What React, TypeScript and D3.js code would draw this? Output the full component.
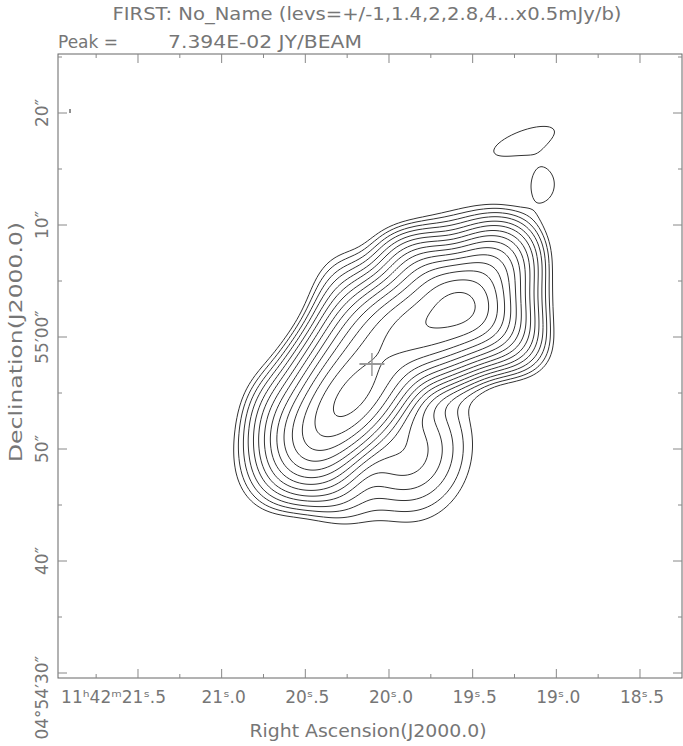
import React from 'react';
import * as d3 from 'd3';

// RA in seconds of time after 11h42m, Dec in arcsec after +04d54m
const raMajor = [21.5, 21.0, 20.5, 20.0, 19.5, 19.0, 18.5];
const raMinor = [21.75, 21.25, 20.75, 20.25, 19.75, 19.25, 18.75];
const raLabels = ['11ʰ42ᵐ21ˢ.5', '21ˢ.0', '20ˢ.5', '20ˢ.0', '19ˢ.5', '19ˢ.0', '18ˢ.5'];
const decMajor = [30, 40, 50, 60, 70, 80];
const decMinor = [35, 45, 55, 65, 75, 85];
const decLabels = ['04°54′30″', '40″', '50″', '55′00″', '10″', '20″'];

// gaussian components: position, peak (mJy/beam), widths (arcsec), PA (deg)
const compRA = [19.568, 20.228, 19.73, 20.477, 20.144, 19.459, 19.81, 20.248, 19.934, 19.199, 19.083];
const compDec = [63.14, 54.44, 61.21, 49.93, 59.17, 65.14, 50.11, 62.77, 49.91, 77.59, 73.75];
const compAmp = [25.16, 43.92, 52.85, 3.84, 14.37, 21.78, 0.83, 1.36, 1.8, 0.65, 0.65];
const compMaj = [3.27, 4.07, 3.42, 2.09, 5.9, 2.65, 5.51, 3.02, 2.6, 3.8, 1.7];
const compMin = [1.75, 1.97, 2.19, 3.44, 2.32, 1.89, 3.78, 2.06, 2.6, 1.25, 1.28];
const compPA = [-126.5, -41.5, -72.0, -54.5, -42.8, -42.3, -10.1, 7.1, 0, -70, 0];

// contour levels: multiples of 0.5 mJy/beam
const levelUnit = 0.5;
const levelFactors = [1, 1.4, 2, 2.8, 4, 5.6, 8, 11.3, 16, 22.6, 32, 45.3, 64, 90.5, 128];

const crossRA = 20.102;
const crossDec = 57.59;

const frame = { left: 58, top: 54, right: 682, bottom: 678 };
const font = "'DejaVu Sans', sans-serif";
const textColor = '#767676';

export default function App() {
  const x = d3.scaleLinear().domain([21.978, 18.249]).range([frame.left, frame.right]);
  const y = d3.scaleLinear().domain([85.268, 29.554]).range([frame.top, frame.bottom]);
  const pxPerArcsec = (y(30) - y(40)) / 10;

  const comps = compRA.map((ra, k) => {
    const t = (compPA[k] * Math.PI) / 180;
    return { cx: x(ra), cy: y(compDec[k]), ux: -Math.sin(t), uy: -Math.cos(t), k };
  });

  const flux = (px: number, py: number) => {
    let s = 0;
    for (const c of comps) {
      const dx = (px - c.cx) / pxPerArcsec;
      const dy = (py - c.cy) / pxPerArcsec;
      const a = (dx * c.ux + dy * c.uy) / compMaj[c.k];
      const b = (-dx * c.uy + dy * c.ux) / compMin[c.k];
      s += compAmp[c.k] * Math.exp(-0.5 * (a * a + b * b));
    }
    return s;
  };

  const step = 2;
  const nx = Math.floor((frame.right - frame.left) / step) + 1;
  const ny = Math.floor((frame.bottom - frame.top) / step) + 1;
  const values: number[] = new Array(nx * ny);
  for (let j = 0; j < ny; j++) {
    for (let i = 0; i < nx; i++) {
      values[j * nx + i] = flux(frame.left + i * step, frame.top + j * step);
    }
  }
  const levels = levelFactors.map((f) => f * levelUnit);
  const contours = d3.contours().size([nx, ny]).thresholds(levels)(values);
  const path = d3.geoPath(d3.geoIdentity().scale(step).translate([frame.left, frame.top]) as any);

  const cx = x(crossRA);
  const cy = y(crossDec);

  return (
    <svg width={683} height={746} style={{ display: 'block', position: 'absolute', left: 0, top: 0 }}>
      <rect x={0} y={0} width={683} height={746} fill="#fff" />
      <text x={367} y={20} textAnchor="middle" fontFamily={font} fontSize={17} fill={textColor}
        textLength={509} lengthAdjust="spacingAndGlyphs">
        FIRST: No_Name (levs=+/-1,1.4,2,2.8,4...x0.5mJy/b)
      </text>
      <text x={58} y={48} fontFamily={font} fontSize={17} fill={textColor} textLength={60} lengthAdjust="spacingAndGlyphs">Peak =</text>
      <text x={168} y={48} fontFamily={font} fontSize={17} fill={textColor} textLength={194} lengthAdjust="spacingAndGlyphs">7.394E-02 JY/BEAM</text>

      {contours.map((c, i) => (
        <path key={i} d={path(c as any) || ''} fill="none" stroke="#333" strokeWidth={1} />
      ))}

      <line x1={cx - 12.5} x2={cx + 12.5} y1={cy} y2={cy} stroke="#999" strokeWidth={2} />
      <line x1={cx} x2={cx} y1={cy - 11} y2={cy + 12} stroke="#999" strokeWidth={1.5} />
      <line x1={70} x2={70} y1={109} y2={113} stroke="#222" strokeWidth={1} />

      <rect x={frame.left} y={frame.top} width={frame.right - frame.left} height={frame.bottom - frame.top}
        fill="none" stroke="#666" strokeWidth={1} />

      {raMajor.map((r) => (
        <g key={'ra' + r}>
          <line x1={x(r)} x2={x(r)} y1={frame.bottom} y2={frame.bottom - 9} stroke="#888" />
          <line x1={x(r)} x2={x(r)} y1={frame.top} y2={frame.top + 9} stroke="#888" />
        </g>
      ))}
      {raMinor.map((r) => (
        <g key={'rm' + r}>
          <line x1={x(r)} x2={x(r)} y1={frame.bottom} y2={frame.bottom - 4} stroke="#888" />
          <line x1={x(r)} x2={x(r)} y1={frame.top} y2={frame.top + 4} stroke="#888" />
        </g>
      ))}
      {decMajor.map((d) => (
        <g key={'dm' + d}>
          <line x1={frame.left} x2={frame.left + 9} y1={y(d)} y2={y(d)} stroke="#888" />
          <line x1={frame.right} x2={frame.right - 9} y1={y(d)} y2={y(d)} stroke="#888" />
        </g>
      ))}
      {decMinor.map((d) => (
        <g key={'dn' + d}>
          <line x1={frame.left} x2={frame.left + 4} y1={y(d)} y2={y(d)} stroke="#888" />
          <line x1={frame.right} x2={frame.right - 4} y1={y(d)} y2={y(d)} stroke="#888" />
        </g>
      ))}

      {raMajor.map((r, i) => (
        <text key={'rl' + r} x={i === 0 ? x(r) + 28 : x(r) + 2} y={703} textAnchor={i === 0 ? 'end' : 'middle'}
          fontFamily={font} fontSize={17} fill={textColor}>
          {raLabels[i]}
        </text>
      ))}
      <text x={368} y={737} textAnchor="middle" fontFamily={font} fontSize={17} fill={textColor}
        textLength={237} lengthAdjust="spacingAndGlyphs">
        Right Ascension(J2000.0)
      </text>

      {decMajor.map((d, i) => {
        const ty = i === 0 ? 656 : y(d);
        return (
          <text key={'dl' + d} x={48} y={ty} transform={`rotate(-90, 48, ${ty})`}
            textAnchor={i === 0 ? 'end' : 'middle'} fontFamily={font} fontSize={17} fill={textColor}>
            {decLabels[i]}
          </text>
        );
      })}
      <text x={22} y={342} transform="rotate(-90, 22, 342)" textAnchor="middle" fontFamily={font} fontSize={17}
        fill={textColor} textLength={240} lengthAdjust="spacingAndGlyphs">
        Declination(J2000.0)
      </text>
    </svg>
  );
}
